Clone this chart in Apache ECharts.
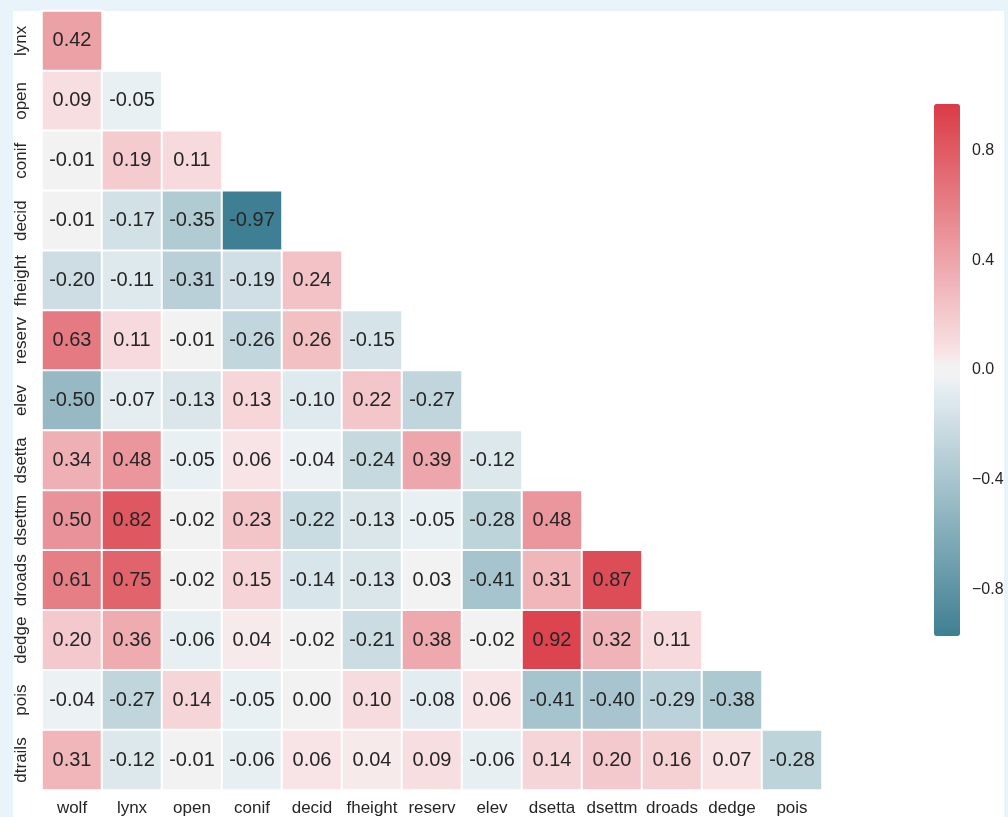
<!DOCTYPE html>
<html>
<head>
<meta charset="utf-8">
<script src="https://cdn.jsdelivr.net/npm/echarts@6/dist/echarts.min.js"></script>
<style>
  html, body { margin: 0; padding: 0; background: #e9f3fa; }
  #main { width: 1008px; height: 817px; }
</style>
</head>
<body>
<div id="main"></div>
<script>
// variables on the x axis (columns) and y axis (rows, top to bottom)
var cols = ['wolf', 'lynx', 'open', 'conif', 'decid', 'fheight', 'reserv', 'elev', 'dsetta', 'dsettm', 'droads', 'dedge', 'pois'];
var rows = ['lynx', 'open', 'conif', 'decid', 'fheight', 'reserv', 'elev', 'dsetta', 'dsettm', 'droads', 'dedge', 'pois', 'dtrails'];

// lower triangle of the correlation matrix, one list per row
var corr = [
  [0.42],
  [0.09, -0.05],
  [-0.01, 0.19, 0.11],
  [-0.01, -0.17, -0.35, -0.97],
  [-0.20, -0.11, -0.31, -0.19, 0.24],
  [0.63, 0.11, -0.01, -0.26, 0.26, -0.15],
  [-0.50, -0.07, -0.13, 0.13, -0.10, 0.22, -0.27],
  [0.34, 0.48, -0.05, 0.06, -0.04, -0.24, 0.39, -0.12],
  [0.50, 0.82, -0.02, 0.23, -0.22, -0.13, -0.05, -0.28, 0.48],
  [0.61, 0.75, -0.02, 0.15, -0.14, -0.13, 0.03, -0.41, 0.31, 0.87],
  [0.20, 0.36, -0.06, 0.04, -0.02, -0.21, 0.38, -0.02, 0.92, 0.32, 0.11],
  [-0.04, -0.27, 0.14, -0.05, 0.00, 0.10, -0.08, 0.06, -0.41, -0.40, -0.29, -0.38],
  [0.31, -0.12, -0.01, -0.06, 0.06, 0.04, 0.09, -0.06, 0.14, 0.20, 0.16, 0.07, -0.28]
];

// colour bar
var cbarMin = -0.97;
var cbarMax = 0.97;
var cbarTicks = [-0.8, -0.4, 0, 0.4, 0.8];

// diverging map (256 steps): dark end -> blue tint, grey band, pink tint -> red end
var negEnd = [63, 127, 147], negTint = [234, 241, 244];
var posEnd = [218, 59, 70], posTint = [249, 231, 233];
var centre = [242, 242, 242];
var sideSteps = 123, greySteps = 10;

function mix(a, b, f) {
  return 'rgb(' + a.map(function (c, k) { return Math.round(c + (b[k] - c) * f); }).join(',') + ')';
}
var palette = [];
for (var k = 0; k < sideSteps; k++) palette.push(mix(negEnd, negTint, k / (sideSteps - 1)));
for (var k = 0; k < greySteps; k++) palette.push(mix(centre, centre, 0));
for (var k = 0; k < sideSteps; k++) palette.push(mix(posTint, posEnd, k / (sideSteps - 1)));

var cells = [];
for (var i = 0; i < corr.length; i++) {
  for (var j = 0; j < corr[i].length; j++) {
    cells.push([j, i, corr[i][j]]);
  }
}

var textColor = '#262626';
var font = 'Liberation Sans, Arial, sans-serif';

var chart = echarts.init(document.getElementById('main'));
chart.setOption({
  backgroundColor: '#e9f3fa',
  animation: false,
  graphic: [{
    type: 'rect',
    z: -1,
    silent: true,
    shape: { x: 13, y: 11, width: 991, height: 806 },
    style: { fill: '#ffffff' }
  }],
  grid: [
    { left: 42, top: 11, width: 780, height: 780 },
    { left: 934, top: 104, width: 26, height: 532 }
  ],
  xAxis: [{
    type: 'category',
    data: cols,
    gridIndex: 0,
    axisLine: { show: false },
    axisTick: { show: false },
    splitLine: { show: false },
    axisLabel: { color: textColor, fontSize: 17, fontFamily: font, margin: 10, interval: 0 }
  }, {
    type: 'value',
    gridIndex: 1,
    show: false
  }],
  yAxis: [{
    type: 'category',
    data: rows,
    inverse: true,
    gridIndex: 0,
    axisLine: { show: false },
    axisTick: { show: false },
    splitLine: { show: false },
    axisLabel: { color: textColor, fontSize: 17, fontFamily: font, margin: 12, rotate: 90, interval: 0 }
  }, {
    type: 'value',
    gridIndex: 1,
    position: 'right',
    min: cbarMin,
    max: cbarMax,
    axisLine: { show: false },
    axisTick: { show: false },
    splitLine: { show: false },
    axisLabel: {
      customValues: cbarTicks,
      margin: 12,
      color: textColor,
      fontSize: 16,
      fontFamily: font,
      formatter: function (v) { return (v < 0 ? '\u2212' : '') + Math.abs(v).toFixed(1); }
    }
  }],
  visualMap: {
    type: 'continuous',
    min: cbarMin,
    max: cbarMax,
    calculable: false,
    orient: 'vertical',
    left: 934,
    top: 104,
    padding: 0,
    itemWidth: 26,
    itemHeight: 532,
    seriesIndex: 0,
    inRange: { color: palette }
  },
  series: [{
    type: 'heatmap',
    xAxisIndex: 0,
    yAxisIndex: 0,
    data: cells,
    label: {
      show: true,
      color: textColor,
      fontSize: 20,
      fontFamily: font,
      formatter: function (p) { return p.value[2].toFixed(2); }
    },
    itemStyle: { borderColor: '#ffffff', borderWidth: 2 }
  }]
});
</script>
</body>
</html>
